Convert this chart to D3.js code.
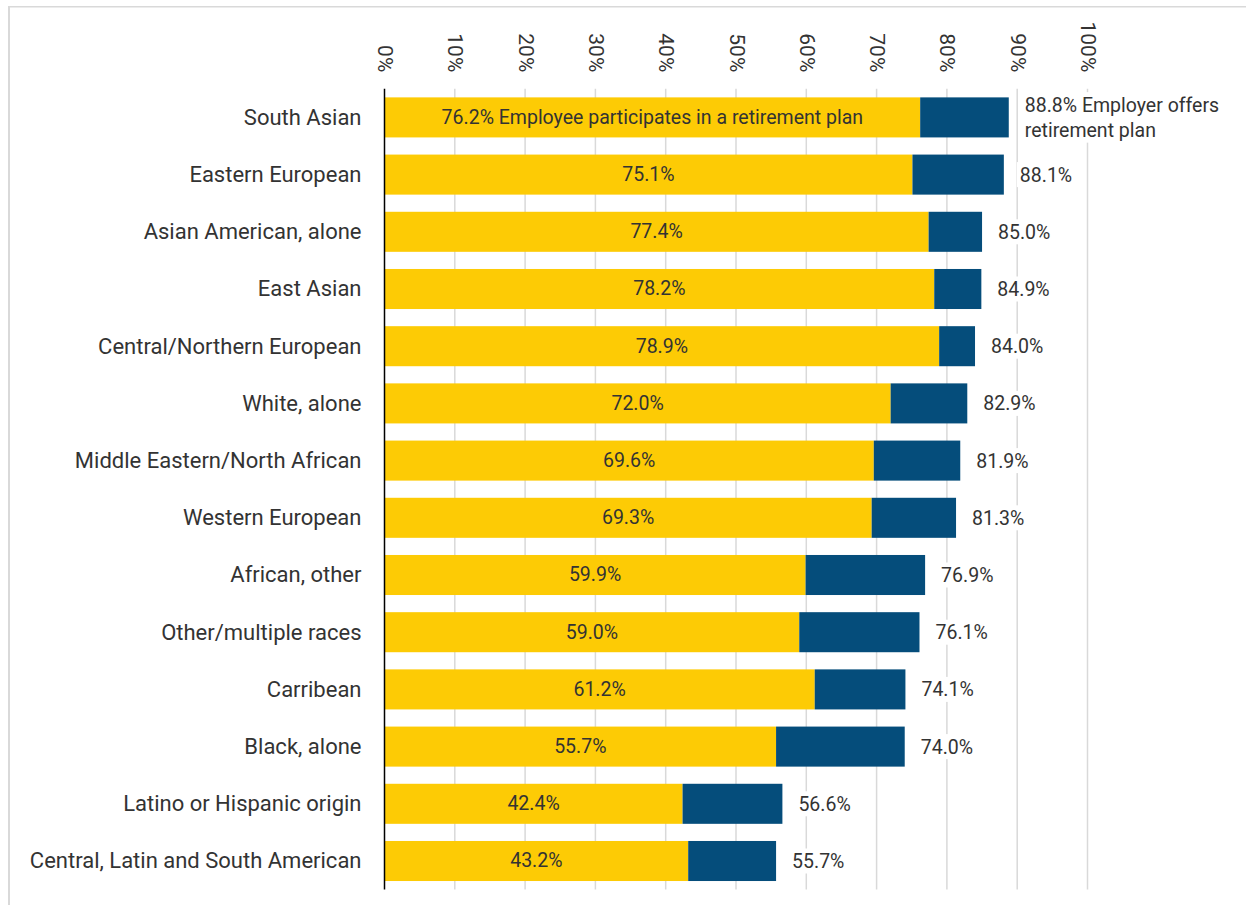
<!DOCTYPE html>
<html>
<head>
<meta charset="utf-8">
<script src="https://cdn.jsdelivr.net/npm/d3@7"></script>
<style>
  body { margin: 0; background: #fff; }
  svg text { font-family: Roboto, "Open Sans", sans-serif; fill: #333333; }
  .cat-label { font-size: 22px; font-weight: 400; }
  .val-label { font-size: 19.5px; font-weight: 400; }
  .tick-label { font-size: 21px; font-weight: 400; }
</style>
</head>
<body>
<div id="chart"></div>
<script>

// Chart data, top to bottom
let categories = [
  "South Asian",
  "Eastern European",
  "Asian American, alone",
  "East Asian",
  "Central/Northern European",
  "White, alone",
  "Middle Eastern/North African",
  "Western European",
  "African, other",
  "Other/multiple races",
  "Carribean",
  "Black, alone",
  "Latino or Hispanic origin",
  "Central, Latin and South American"
];

// Employee participates in a retirement plan (%)
let participates = [76.2, 75.1, 77.4, 78.2, 78.9, 72.0, 69.6, 69.3, 59.9, 59.0, 61.2, 55.7, 42.4, 43.2];

// Employer offers retirement plan (%)
let offers = [88.8, 88.1, 85.0, 84.9, 84.0, 82.9, 81.9, 81.3, 76.9, 76.1, 74.1, 74.0, 56.6, 55.7];

let tickValues = [0, 10, 20, 30, 40, 50, 60, 70, 80, 90, 100];

function drawChart(width, height, selector) {

  let yellow = "#FDCB05";
  let blue = "#054D7B";

  let margin = { top: 88.8, left: 384.5, right: 158.5, bottom: 15.4 };
  let chartWidth = width - margin.left - margin.right;
  let chartHeight = height - margin.top - margin.bottom;

  /////////////////////////
  //// Scales          ////
  /////////////////////////

  let xPositionScale = d3.scaleLinear()
    .domain([0, 100])
    .range([0, chartWidth]);

  let yPositionScale = d3.scaleBand()
    .domain(categories)
    .range([0, chartHeight])
    .paddingInner(0.3)
    .paddingOuter(0.15);

  let rows = categories.map((c, i) => ({ name: c, part: participates[i], offer: offers[i], idx: i }));

  let svg = d3.select(selector)
    .append("svg")
    .attr("width", width)
    .attr("height", height);

  // outer frame, only left and top visible
  svg.append("line")
    .attr("x1", 9).attr("x2", 9).attr("y1", 6).attr("y2", height)
    .attr("stroke", "#d9d9d9").attr("stroke-width", 2);
  svg.append("line")
    .attr("x1", 8).attr("x2", width).attr("y1", 6.7).attr("y2", 6.7)
    .attr("stroke", "#d9d9d9").attr("stroke-width", 1.5);

  let chart = svg.append("g")
    .attr("transform", "translate(" + margin.left + "," + margin.top + ")");

  // gridlines
  chart.append("g")
    .selectAll("line")
    .data(tickValues.slice(1))
    .join("line")
    .attr("x1", d => xPositionScale(d))
    .attr("x2", d => xPositionScale(d))
    .attr("y1", 0)
    .attr("y2", chartHeight)
    .attr("stroke", "#d9d9d9")
    .attr("stroke-width", 1.5);

  // tick labels on top, rotated
  let xAxis = d3.axisTop(xPositionScale)
    .tickValues(tickValues)
    .tickSize(0)
    .tickFormat(d => d + "%");

  let xAxisG = chart.append("g")
    .attr("class", "axis x-axis")
    .call(xAxis);
  xAxisG.select(".domain").remove();
  xAxisG.selectAll(".tick text")
    .attr("class", "tick-label")
    .attr("fill", null)
    .attr("text-anchor", "end")
    .attr("dominant-baseline", "central")
    .attr("x", 0)
    .attr("y", 0)
    .attr("dy", null)
    .attr("transform", "translate(0,-16.5) rotate(90)");

  // yellow bars
  chart.selectAll(".bar-part")
    .data(rows)
    .join("rect")
    .attr("class", "bar-part")
    .attr("x", 0)
    .attr("y", d => yPositionScale(d.name))
    .attr("width", d => xPositionScale(d.part))
    .attr("height", yPositionScale.bandwidth())
    .attr("fill", yellow);

  // blue bars, stacked on the yellow ones
  chart.selectAll(".bar-offer")
    .data(rows)
    .join("rect")
    .attr("class", "bar-offer")
    .attr("x", d => xPositionScale(d.part))
    .attr("y", d => yPositionScale(d.name))
    .attr("width", d => xPositionScale(d.offer) - xPositionScale(d.part))
    .attr("height", yPositionScale.bandwidth())
    .attr("fill", blue);

  // labels inside yellow bars
  chart.selectAll(".part-label")
    .data(rows)
    .join("text")
    .attr("class", "val-label part-label")
    .attr("x", d => xPositionScale(d.part) / 2)
    .attr("y", d => yPositionScale(d.name) + yPositionScale.bandwidth() / 2)
    .attr("text-anchor", "middle")
    .attr("dominant-baseline", "central")
    .text(d => d3.format(".1f")(d.part) + "%" + (d.idx == 0 ? " Employee participates in a retirement plan" : ""));

  // labels at the end of the bars, with a white box behind
  let endLabels = chart.selectAll(".offer-label")
    .data(rows)
    .join("g")
    .attr("class", "offer-label")
    .attr("transform", d => "translate(" + (xPositionScale(d.offer) + 16) + "," + (yPositionScale(d.name) + yPositionScale.bandwidth() / 2) + ")");

  endLabels.each(function(d) {
    let g = d3.select(this);
    let lines = d.idx == 0
      ? [d3.format(".1f")(d.offer) + "% Employer offers", "retirement plan"]
      : [d3.format(".1f")(d.offer) + "%"];
    let bg = g.append("rect").attr("fill", "#fff");
    let t = g.append("text")
      .attr("class", "val-label")
      .attr("dominant-baseline", "central");
    lines.forEach((l, i) => {
      t.append("tspan")
        .attr("x", 0)
        .attr("y", (i - (lines.length - 1) / 2) * 25.5)
        .text(l);
    });
    let box = t.node().getBBox();
    bg.attr("x", box.x - 3).attr("y", box.y - 1)
      .attr("width", box.width + 6).attr("height", box.height + 2);
  });

  // category labels
  chart.selectAll(".cat-label")
    .data(rows)
    .join("text")
    .attr("class", "cat-label")
    .attr("x", -23)
    .attr("y", d => yPositionScale(d.name) + yPositionScale.bandwidth() / 2)
    .attr("text-anchor", "end")
    .attr("dominant-baseline", "central")
    .text(d => d.name);

  // vertical axis line
  chart.append("line")
    .attr("x1", 0).attr("x2", 0)
    .attr("y1", 0).attr("y2", chartHeight)
    .attr("stroke", "#000")
    .attr("stroke-width", 1.5);
}

drawChart(1246, 905, "#chart");
</script>
</body>
</html>
